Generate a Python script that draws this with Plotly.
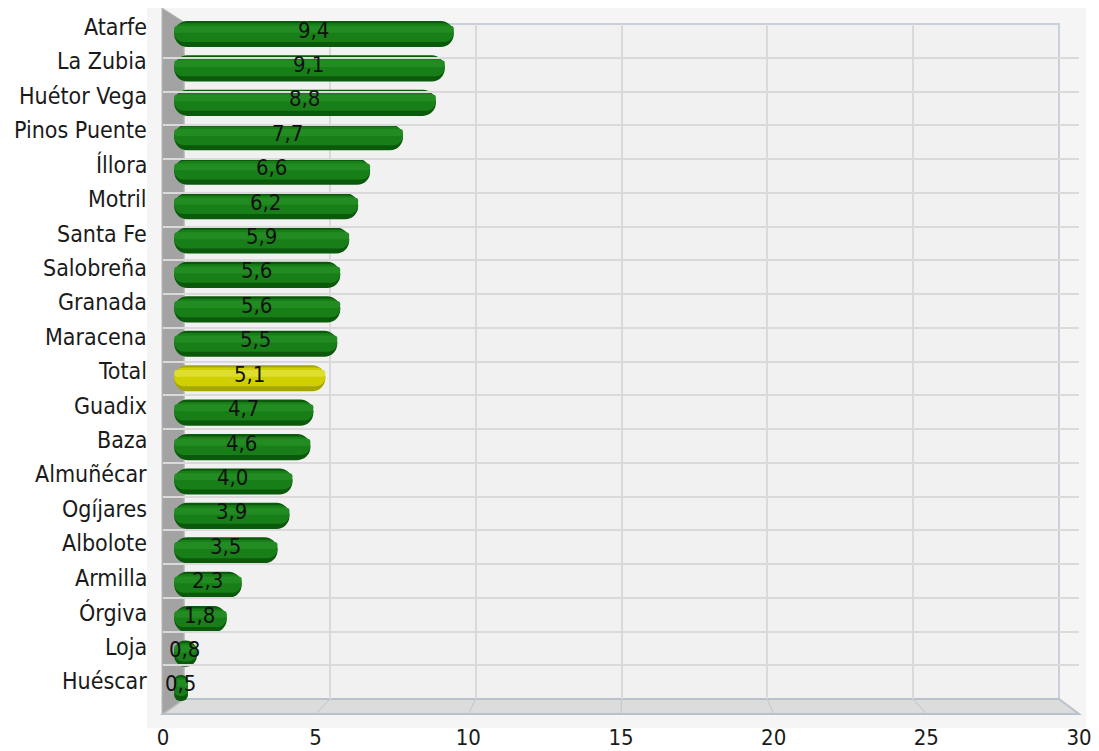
import plotly.graph_objects as go

categories = ["Atarfe", "La Zubia", "Huétor Vega", "Pinos Puente", "Íllora", "Motril",
              "Santa Fe", "Salobreña", "Granada", "Maracena", "Total", "Guadix", "Baza",
              "Almuñécar", "Ogíjares", "Albolote", "Armilla", "Órgiva", "Loja", "Huéscar"]
values = [9.4, 9.1, 8.8, 7.7, 6.6, 6.2, 5.9, 5.6, 5.6, 5.5, 5.1, 4.7, 4.6,
          4.0, 3.9, 3.5, 2.3, 1.8, 0.8, 0.5]
x_ticks = [0, 5, 10, 15, 20, 25, 30]
highlight_category = "Total"

OFF = 8  # page body margin compensation
W, H = 1099 - OFF, 751 - OFF
def px(x):
    return (x - OFF) / W
def py(y):
    return 1 - (y - OFF) / H

FONT = "DejaVu Sans Condensed, DejaVu Sans"
labels = [f"{v:.1f}".replace(".", ",") for v in values]
n = len(categories)

edge_col = ["#a6a600" if c == highlight_category else "#0b5a0b" for c in categories]
body_col = ["#d0d000" if c == highlight_category else "#187f18" for c in categories]
hi_col = ["#dede30" if c == highlight_category else "#228c22" for c in categories]
layers = [(edge_col, 0.76, -0.38), (body_col, 0.54, -0.31), (hi_col, 0.2, -0.24)]

# a small explicit base lets plotly round the starting end of the bars as well
START = 0.04
bar_base = [START for _ in values]
bar_len = [v - START for v in values]

fig = go.Figure()

# back wall grid (first subplot, so it stays beneath the bars)
fig.add_trace(go.Scatter(x=[0, 30], y=[0, 20], xaxis="x", yaxis="y", mode="markers",
                         marker=dict(opacity=0), hoverinfo="skip", showlegend=False))

# cylinder-like capsule bars
for cols, wdt, off in layers:
    fig.add_trace(go.Bar(y=categories, x=bar_len, base=bar_base, orientation="h",
                         width=wdt, offset=off, xaxis="x2", yaxis="y2",
                         marker=dict(color=cols, line=dict(width=0), cornerradius="50%"),
                         hoverinfo="skip", showlegend=False))

# front axis helper
fig.add_trace(go.Scatter(x=[0, 30], y=[0, 0], xaxis="x3", yaxis="y",
                         mode="markers", marker=dict(opacity=0), hoverinfo="skip", showlegend=False))

annotations = []
for c, v, t in zip(categories, values, labels):
    annotations.append(dict(x=v / 2, y=c, xref="x2", yref="y2", text=t, showarrow=False,
                            xanchor="center", yanchor="middle", yshift=4,
                            font=dict(family=FONT, size=22, color="#111111")))
    annotations.append(dict(x=0, y=c, xref="x2", yref="y2", text=c, showarrow=False,
                            xanchor="right", yanchor="middle", xshift=-24, yshift=7,
                            font=dict(family=FONT, size=23, color="#1a1a1a")))

# decorative 3D frame
bx0, bx1, by0, by1 = 184, 1059, 24, 699   # back wall
fx0, fx1, fy = 163, 1079, 714              # front floor edge
shapes = [
    dict(type="rect", xref="paper", yref="paper", x0=px(147), x1=px(1086), y0=py(728), y1=py(OFF),
         fillcolor="#f5f5f5", line=dict(width=0), layer="below"),
    dict(type="rect", xref="paper", yref="paper", x0=px(bx0), x1=px(bx1), y0=py(by1), y1=py(by0),
         fillcolor="#f1f1f1", line=dict(color="#c9d0d8", width=2), layer="below"),
    dict(type="path", xref="paper", yref="paper",
         path=f"M {px(bx0)} {py(by1)} L {px(bx1)} {py(by1)} L {px(fx1)} {py(fy)} L {px(fx0)} {py(fy)} Z",
         fillcolor="#dcdcdc", line=dict(color="#b9c1ca", width=2), layer="below"),
    dict(type="path", xref="paper", yref="paper",
         path=f"M {px(162)} {py(8)} L {px(bx0)} {py(22)} L {px(bx0)} {py(by1)} L {px(162)} {py(fy)} Z",
         fillcolor="#a3a3a3", line=dict(color="#b8b8b8", width=1), layer="below"),
]
for t in x_ticks[1:-1]:
    xb = bx0 + (bx1 - bx0) * t / 30
    xf = fx0 + (fx1 - fx0) * t / 30
    shapes.append(dict(type="line", xref="paper", yref="paper", x0=px(xb), y0=py(by1),
                       x1=px(xf), y1=py(fy), line=dict(color="#c4c4c4", width=1), layer="below"))

fig.update_layout(
    template="none",
    width=W, height=H, margin=dict(l=0, r=0, t=0, b=0, pad=0), autosize=False,
    paper_bgcolor="white", plot_bgcolor="rgba(0,0,0,0)",
    barmode="overlay", showlegend=False,
    xaxis=dict(domain=[px(bx0), px(bx1)], range=[0, 30], anchor="y", tickvals=x_ticks,
               showgrid=True, gridcolor="#dadada", gridwidth=1.5, showticklabels=False,
               zeroline=False, showline=False, ticks="", automargin=False, fixedrange=True),
    yaxis=dict(domain=[py(by1), py(by0)], range=[0, 20], anchor="x", dtick=1,
               showgrid=True, gridcolor="#dadada", gridwidth=1.5, showticklabels=False,
               zeroline=False, showline=False, ticks="", automargin=False, fixedrange=True),
    xaxis2=dict(domain=[px(173), px(1069)], range=[0, 30], anchor="y2", visible=False,
                fixedrange=True, automargin=False),
    yaxis2=dict(domain=[py(705.2), py(16.8)], anchor="x2", type="category", categoryorder="array",
                categoryarray=categories, range=[n - 0.5, -0.5], showgrid=False,
                zeroline=False, showticklabels=False, showline=False, ticks="", automargin=False),
    xaxis3=dict(domain=[px(fx0), px(fx1)], range=[0, 30], anchor="free", position=py(fy),
                tickvals=x_ticks, ticktext=[str(t) for t in x_ticks], showgrid=False,
                zeroline=False, showline=False, ticks="", ticklabelstandoff=8, automargin=False,
                tickfont=dict(family=FONT, size=22, color="#1a1a1a")),
    annotations=annotations, shapes=shapes,
)

fig.write_html("out.html")
